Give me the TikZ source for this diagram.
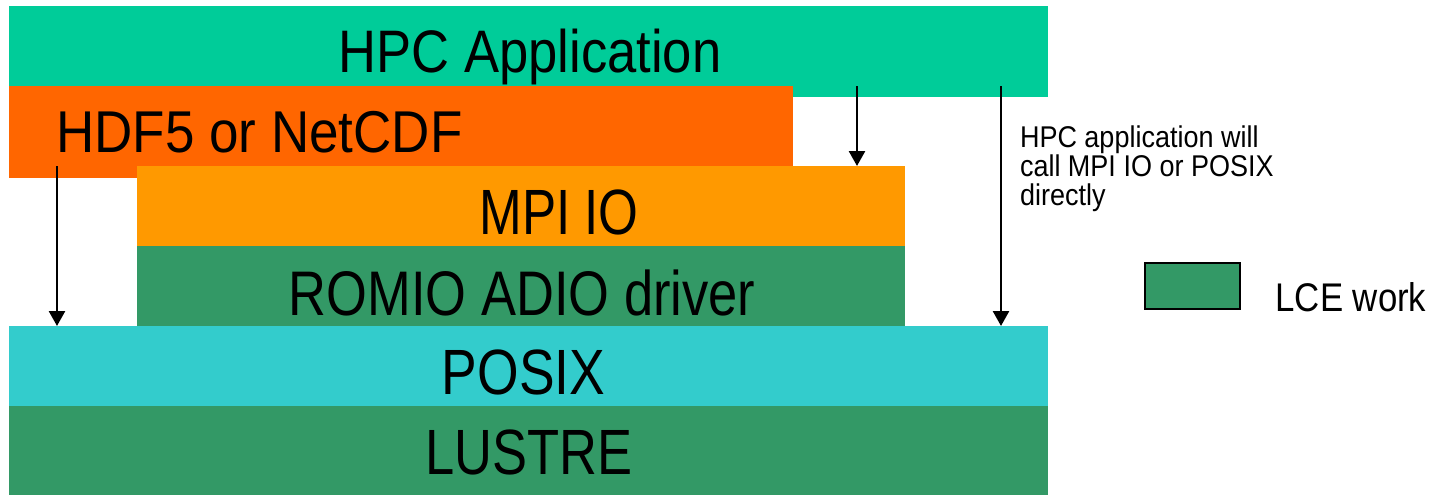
\documentclass[tikz,border=0pt]{standalone}
\usepackage{fontspec}
\setmainfont{Liberation Sans}
\usetikzlibrary{arrows.meta}
\definecolor{cHPC}{HTML}{00CC99}
\definecolor{cHDF}{HTML}{FF6600}
\definecolor{cMPI}{HTML}{FF9900}
\definecolor{cLCE}{HTML}{339966}
\definecolor{cPOSIX}{HTML}{33CCCC}
\tikzset{
  layer/.style={draw=none, inner sep=0pt, outer sep=0pt, anchor=north west},
  lbl/.style={inner sep=0pt, outer sep=0pt, anchor=base, text=black},
  callarrow/.style={line width=2.6pt, -{Triangle[width=16pt,length=15pt]}},
}
\newcommand{\lt}[3]{\fontsize{#1}{#1}\selectfont\scalebox{#2}[1]{#3}}
\begin{document}
\begin{tikzpicture}[x=1pt,y=-1pt]
\useasboundingbox (0,0) rectangle (1435,495);
% layers
\node[layer, fill=cHPC, minimum width=1039pt, minimum height=91pt] (hpc) at (9,6) {};
\node[layer, fill=cHDF, minimum width=784pt, minimum height=92pt] (hdf) at (9,86) {};
\node[layer, fill=cMPI, minimum width=768pt, minimum height=80pt] (mpi) at (137,166) {};
\node[layer, fill=cLCE, minimum width=768pt, minimum height=80pt] (romio) at (137,246) {};
\node[layer, fill=cPOSIX, minimum width=1039pt, minimum height=80pt] (posix) at (9,326) {};
\node[layer, fill=cLCE, minimum width=1039pt, minimum height=89pt] (lustre) at (9,406) {};
% labels
\node[lbl] (thpc) at (530,73) {\lt{60}{0.876}{HPC Application}};
\node[lbl] (thdf) at (259.5,152) {\lt{59}{0.898}{HDF5 or NetCDF}};
\node[lbl] (tmpi) at (559,234) {\lt{64}{0.80}{MPI IO}};
\node[lbl] (tromio) at (522,315) {\lt{63}{0.833}{ROMIO ADIO driver}};
\node[lbl] (tposix) at (523.5,394) {\lt{64}{0.835}{POSIX}};
\node[lbl] (tlustre) at (529,474) {\lt{64}{0.82}{LUSTRE}};
% arrows
\coordinate (a1s) at (57,166);
\coordinate (a2s) at (857,86);
\coordinate (a3s) at (1001,86);
\draw[callarrow] (a1s) -- (a1s |- posix.north);
\draw[callarrow] (a2s) -- (a2s |- mpi.north);
\draw[callarrow] (a3s) -- (a3s |- posix.north);
% annotation
\node[inner sep=0pt, outer sep=0pt, anchor=base west] (note) at (1020,147)
  {\fontsize{30}{29}\selectfont\scalebox{0.9}[1]{\vtop{\baselineskip=29pt\hbox{HPC application will}\hbox{call MPI IO or POSIX}\hbox{directly}}}};
% legend
\node[layer, fill=cLCE, draw=black, line width=2pt, minimum width=95pt, minimum height=46pt] (legbox) at (1145,263) {};
\node[lbl] (legtxt) at (1351,311) {\lt{40}{0.87}{LCE work}};
\end{tikzpicture}
\end{document}
